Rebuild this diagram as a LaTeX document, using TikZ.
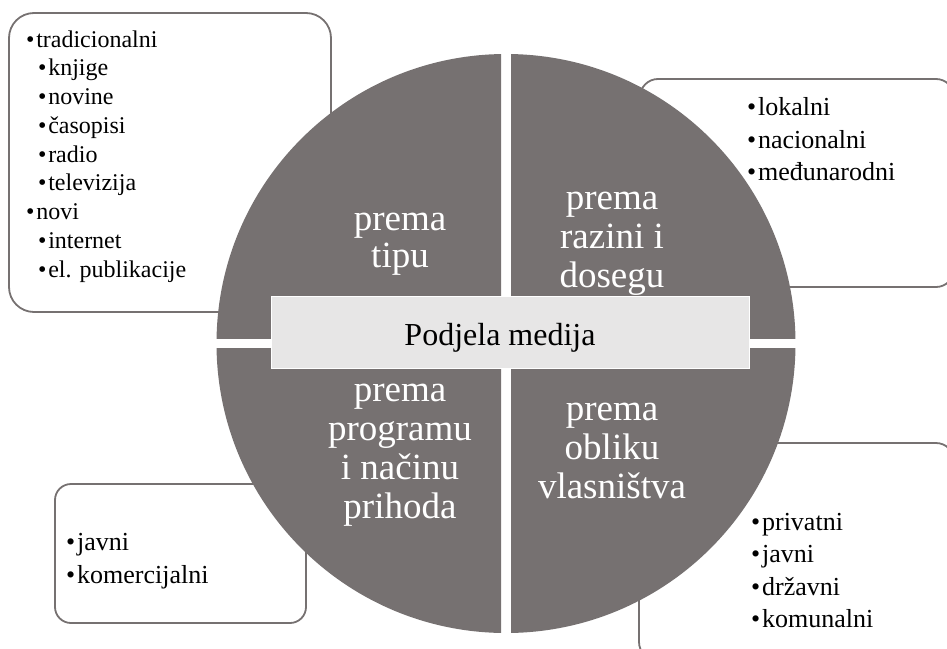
\documentclass[tikz,border=0pt]{standalone}
\usepackage{fontspec}
\setmainfont{Liberation Serif}
\definecolor{quadfill}{HTML}{767171}
\definecolor{boxline}{HTML}{767171}
\definecolor{centerfill}{HTML}{E7E6E6}
\newcommand\bitem[1]{\makebox[0.42em][l]{•}#1}
\begin{document}
\begin{tikzpicture}[x=1pt,y=-1pt,
  infobox/.style={draw=boxline, line width=1.8pt, fill=white},
  quadtext/.style={text=white, font=\fontsize{37}{38}\selectfont, inner sep=0pt, anchor=base},
  itemtext/.style={font=\fontsize{26}{28}\selectfont, inner sep=0pt, anchor=base west},
  smalltext/.style={font=\fontsize{24}{26}\selectfont, inner sep=0pt, anchor=base west},
  centertext/.style={font=\fontsize{32}{34}\selectfont, inner sep=0pt, anchor=base}]
\useasboundingbox (0,0) rectangle (947,648);
% background boxes
\draw[infobox, rounded corners=25pt] (9,13) rectangle (331,312);
\draw[infobox, rounded corners=18pt] (640,79) rectangle (954,287);
\draw[infobox, rounded corners=16pt] (55,484) rectangle (306,623);
\draw[infobox, rounded corners=18pt] (639,443) rectangle (954,660);
% quadrants
\coordinate (C) at (506,343.5);
\begin{scope}
  \clip (200,40) rectangle (501,338.5);
  \fill[quadfill] (C) circle[radius=289.5];
\end{scope}
\begin{scope}
  \clip (511,40) rectangle (810,338.5);
  \fill[quadfill] (C) circle[radius=289.5];
\end{scope}
\begin{scope}
  \clip (200,348.5) rectangle (501,650);
  \fill[quadfill] (C) circle[radius=289.5];
\end{scope}
\begin{scope}
  \clip (511,348.5) rectangle (810,650);
  \fill[quadfill] (C) circle[radius=289.5];
\end{scope}
% quadrant labels
\node[quadtext] (q1a) at (400,230) {prema};
\node[quadtext] (q1b) at (400,267) {tipu};
\node[quadtext] (q2a) at (612,209) {prema};
\node[quadtext] (q2b) at (612,248) {razini i};
\node[quadtext] (q2c) at (612,287) {dosegu};
\node[quadtext] (q3a) at (400,401) {prema};
\node[quadtext] (q3b) at (400,440) {programu};
\node[quadtext] (q3c) at (400,479) {i načinu};
\node[quadtext] (q3d) at (400,518) {prihoda};
\node[quadtext] (q4a) at (612,420) {prema};
\node[quadtext] (q4b) at (612,459) {obliku};
\node[quadtext] (q4c) at (612,498) {vlasništva};
% centre
\fill[centerfill, draw=white, line width=0.8pt] (271,296) rectangle (749,368);
\node[centertext] (centre) at (500,345) {Podjela medija};
% top-left list
\node[smalltext] (tl1) at (26,47) {\bitem{tradicionalni}};
\node[smalltext] (tl2) at (38,75.75) {\bitem{knjige}};
\node[smalltext] (tl3) at (38,104.5) {\bitem{novine}};
\node[smalltext] (tl4) at (38,133.25) {\bitem{časopisi}};
\node[smalltext] (tl5) at (38,162) {\bitem{radio}};
\node[smalltext] (tl6) at (38,190.75) {\bitem{televizija}};
\node[smalltext] (tl7) at (26,219.5) {\bitem{novi}};
\node[smalltext] (tl8) at (38,248.25) {\bitem{internet}};
\node[smalltext] (tl9) at (38,277) {\bitem{el. publikacije}};
% top-right list
\node[itemtext] (tr1) at (747,115) {\bitem{lokalni}};
\node[itemtext] (tr2) at (747,148) {\bitem{nacionalni}};
\node[itemtext] (tr3) at (747,180) {\bitem{međunarodni}};
% bottom-left list
\node[itemtext] (bl1) at (66,550) {\bitem{javni}};
\node[itemtext] (bl2) at (66,583) {\bitem{komercijalni}};
% bottom-right list
\node[itemtext] (br1) at (751,530) {\bitem{privatni}};
\node[itemtext] (br2) at (751,562) {\bitem{javni}};
\node[itemtext] (br3) at (751,595) {\bitem{državni}};
\node[itemtext] (br4) at (751,627) {\bitem{komunalni}};
\end{tikzpicture}
\end{document}
